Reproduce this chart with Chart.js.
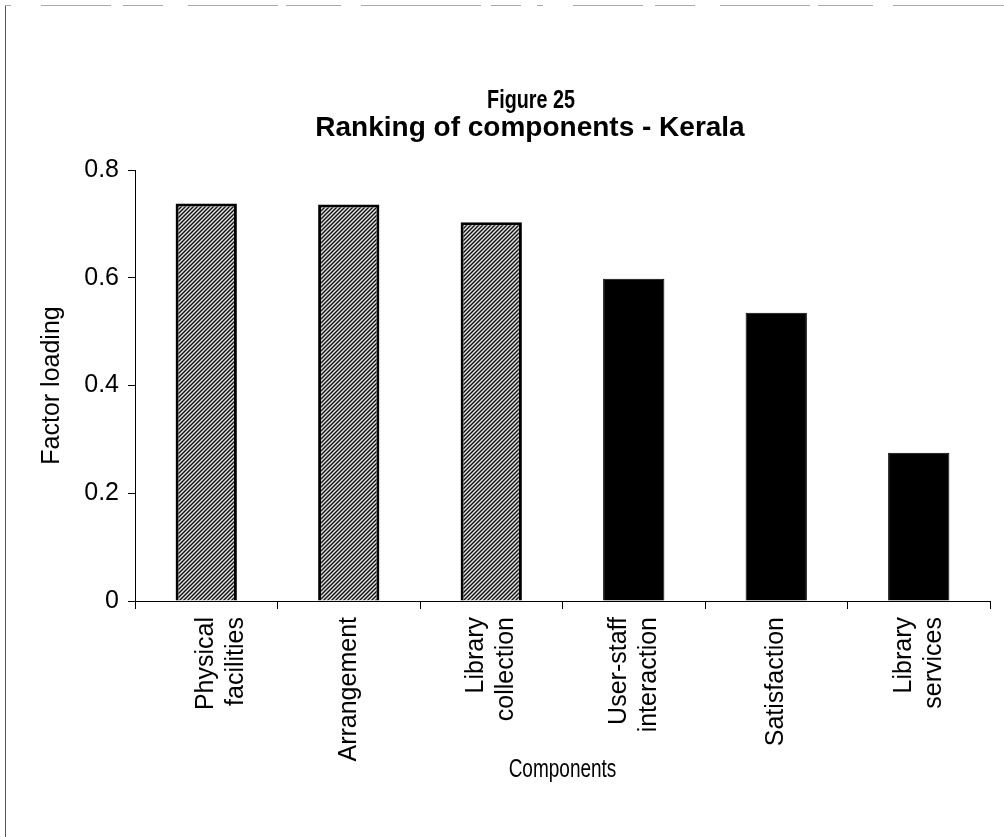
<!DOCTYPE html>
<html>
<head>
<meta charset="utf-8">
<script src="https://cdn.jsdelivr.net/npm/chart.js@4/dist/chart.umd.min.js"></script>
<style>
  html, body { margin: 0; padding: 0; background: #fff; }
  #wrap { width: 1004px; height: 837px; }
</style>
</head>
<body>
<div id="wrap"><canvas id="c" width="1004" height="837"></canvas></div>
<script>
// Ranking of components - Kerala: factor loadings per component
const categories = [
  ['Physical', 'facilities'],
  ['Arrangement'],
  ['Library', 'collection'],
  ['User-staff', 'interaction'],
  ['Satisfaction'],
  ['Library', 'services']
];
const loadings = [0.738, 0.736, 0.703, 0.598, 0.535, 0.275];
const yTickLabels = ['0', '0.2', '0.4', '0.6', '0.8'];
const titleLines = ['Figure 25', 'Ranking of components - Kerala'];
const xAxisTitle = 'Components';

const FONT = '"Liberation Sans", Arial, Helvetica, sans-serif';

// diagonal hatch used for the first three components
function makeHatch() {
  const t = document.createElement('canvas');
  t.width = 4; t.height = 4;
  const g = t.getContext('2d');
  g.fillStyle = '#e0e0e0';
  g.fillRect(0, 0, 4, 4);
  g.strokeStyle = '#111';
  g.lineWidth = 1.4;
  g.beginPath();
  g.moveTo(-1, 5); g.lineTo(5, -1);
  g.moveTo(-1, 1); g.lineTo(1, -1);
  g.moveTo(3, 5); g.lineTo(5, 3);
  g.stroke();
  return document.getElementById('c').getContext('2d').createPattern(t, 'repeat');
}
const hatch = makeHatch();

// text set in a condensed style (horizontally squeezed)
function condensedText(ctx, text, x, y, font, squeeze) {
  ctx.save();
  ctx.font = font;
  ctx.fillStyle = '#000';
  ctx.textAlign = 'center';
  ctx.textBaseline = 'middle';
  ctx.translate(x, y);
  ctx.scale(squeeze, 1);
  ctx.fillText(text, 0, 0);
  ctx.restore();
}

// page frame, heading and x-axis caption
const framePlugin = {
  id: 'frame',
  beforeDraw(chart) {
    const ctx = chart.ctx;
    ctx.save();
    ctx.strokeStyle = '#555';
    ctx.lineWidth = 1;
    ctx.beginPath();
    ctx.moveTo(5.5, 5); ctx.lineTo(5.5, 837);
    ctx.stroke();
    ctx.setLineDash([6, 30, 70, 12, 40, 25, 90, 8, 55, 20, 120, 10, 30, 16]);
    ctx.strokeStyle = '#aaa';
    ctx.beginPath();
    ctx.moveTo(5, 5.5); ctx.lineTo(1004, 5.5);
    ctx.stroke();
    ctx.restore();
  },
  afterDraw(chart) {
    const ctx = chart.ctx;
    const area = chart.chartArea;
    condensedText(ctx, titleLines[0], 531, 101, 'bold 26px ' + FONT, 0.76);
    condensedText(ctx, titleLines[1], 530, 128, 'bold 28px ' + FONT, 1);
    condensedText(ctx, xAxisTitle, (area.left + area.right) / 2, 770, '25px ' + FONT, 0.76);
  }
};

// two-line category labels are centred on their bar (the first one keeps its tick position)
const centreLabels = {
  id: 'centreLabels',
  beforeDraw(chart) {
    const items = chart.scales.x.getLabelItems();
    items.forEach((it, i) => {
      if (it._centred || !Array.isArray(it.label) || it.label.length < 2 || i === 0) return;
      it.options.translation[0] -= it.font.lineHeight / 2;
      it._centred = true;
    });
  }
};

new Chart(document.getElementById('c'), {
  type: 'bar',
  data: {
    labels: categories,
    datasets: [{
      data: loadings,
      backgroundColor: ctx => ctx.dataIndex < 3 ? hatch : '#000',
      borderColor: '#000',
      borderWidth: ctx => ctx.dataIndex < 3 ? 3 : 1,
      barPercentage: 0.43,
      categoryPercentage: 1.0
    }]
  },
  plugins: [framePlugin, centreLabels],
  options: {
    responsive: false,
    animation: false,
    layout: { padding: { left: 30, right: 14, top: 170, bottom: 46 } },
    plugins: { legend: { display: false }, tooltip: { enabled: false }, title: { display: false } },
    scales: {
      x: {
        grid: { offset: true, drawOnChartArea: false, drawTicks: true, tickLength: 8, color: '#000', lineWidth: 1 },
        border: { color: '#000', width: 1 },
        ticks: {
          color: '#000', font: { family: FONT, size: 25 }, padding: 8,
          minRotation: 90, maxRotation: 90, autoSkip: false
        },
        title: { display: false },
        afterFit(scale) { scale.height = 837 - 46 - 601; }
      },
      y: {
        min: 0, max: 0.8,
        grid: { drawOnChartArea: false, drawTicks: true, tickLength: 7, color: '#000' },
        border: { color: '#000', width: 1 },
        ticks: {
          stepSize: 0.2, color: '#000', font: { family: FONT, size: 25 }, padding: 9,
          callback: (v, i) => yTickLabels[i]
        },
        title: { display: true, text: 'Factor loading', color: '#000', font: { family: FONT, size: 25 }, padding: { top: 7, bottom: 0 } },
        afterFit(scale) { scale.width = 135 - 30; }
      }
    }
  }
});
</script>
</body>
</html>
